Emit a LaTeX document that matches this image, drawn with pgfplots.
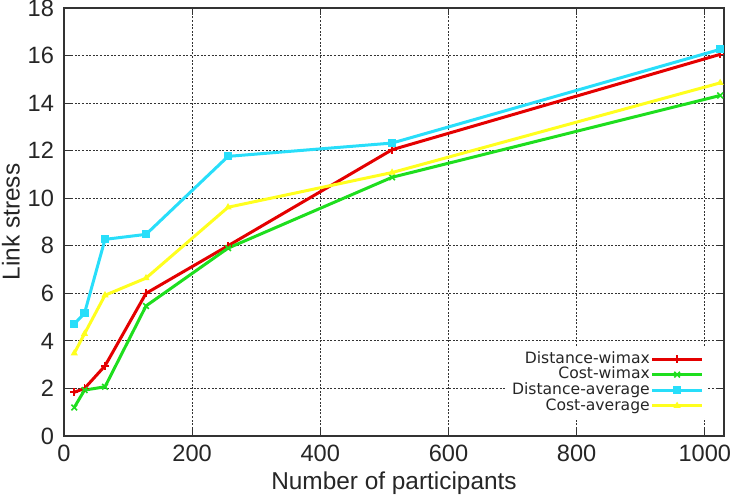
\documentclass[border=0pt]{standalone}
\usepackage{fontspec}
\setmainfont{Liberation Sans}
\newfontfamily\legendfont{DejaVu Sans}
\usepackage{pgfplots}
\pgfplotsset{compat=1.18}

\definecolor{lsred}{RGB}{228,0,0}
\definecolor{lsgreen}{RGB}{30,222,30}
\definecolor{lscyan}{RGB}{40,222,250}
\definecolor{lsyellow}{RGB}{255,255,30}

\begin{document}
\begin{tikzpicture}
\begin{axis}[
  scale only axis,
  width=330pt, height=214pt,
  xmin=0, xmax=1030, ymin=0, ymax=18,
  xtick={0,200,...,1000}, ytick={0,2,...,18},
  tick align=inside, major tick length=3.5pt,
  minor tick num=0,
  grid=major,
  major grid style={black!80, line width=0.4pt, dash pattern=on 1pt off 0.8pt},
  axis line style={black!80, line width=0.6pt},
  tick style={black!80, line width=0.5pt},
  /pgf/number format/assume math mode=true,
  /pgf/number format/1000 sep={},
  tick label style={font=\fontsize{11.8}{13}\selectfont, text=black!85},
  label style={font=\fontsize{12.2}{14}\selectfont, text=black!85},
  xticklabel style={yshift=-1pt},
  yticklabel style={xshift=-1.5pt},
  xlabel={Number of participants},
  ylabel={Link stress},
  xlabel style={yshift=2pt},
  ylabel style={yshift=-3pt},
  every axis plot/.append style={line width=1.5pt},
  legend style={
    at={(rel axis cs:1,0)}, anchor=south east,
    xshift=-8pt, yshift=9pt,
    draw=none, fill=white,
    font=\legendfont\fontsize{7.8}{8}\selectfont,
    text=black!85,
    cells={anchor=east},
    nodes={inner sep=0.4pt, text height=5.6pt, text depth=1.4pt},
    row sep=0pt,
    inner sep=2pt,
  },
  legend plot pos=right,
  legend image code/.code={
    \draw[mark repeat=2,mark phase=2,#1]
      plot coordinates {(1pt,0pt) (13.5pt,0pt) (26pt,0pt)};
  },
]
% Distance-wimax
\addplot[color=lsred, mark=+, mark size=2pt, mark options={line width=0.8pt}]
  coordinates {(16,1.84) (32,2.0) (64,2.95) (128,6.0) (256,8.0) (512,12.04) (1024,16.05)};
\addlegendentry{Distance-wimax}
% Cost-wimax
\addplot[color=lsgreen, mark=x, mark size=2pt, mark options={line width=0.8pt}]
  coordinates {(16,1.2) (32,1.93) (64,2.07) (128,5.47) (256,7.9) (512,10.88) (1024,14.32)};
\addlegendentry{Cost-wimax}
% Distance-average
\addplot[color=lscyan, mark=square*, mark size=1.8pt, mark options={line width=0.5pt}]
  coordinates {(16,4.71) (32,5.16) (64,8.27) (128,8.48) (256,11.76) (512,12.32) (1024,16.26)};
\addlegendentry{Distance-average}
% Cost-average
\addplot[color=lsyellow, mark=triangle*, mark size=1.6pt, mark options={line width=0.5pt}]
  coordinates {(16,3.48) (32,4.3) (64,5.92) (128,6.64) (256,9.62) (512,11.08) (1024,14.85)};
\addlegendentry{Cost-average}
\coordinate (origin) at (rel axis cs:0,0);
\coordinate (corner) at (rel axis cs:1,1);
\end{axis}
% crop the figure to a fixed frame around the axis
\pgfresetboundingbox
\path ([shift={(-32pt,-29pt)}]origin) rectangle ([shift={(5.5pt,4pt)}]corner);
\end{tikzpicture}
\end{document}
